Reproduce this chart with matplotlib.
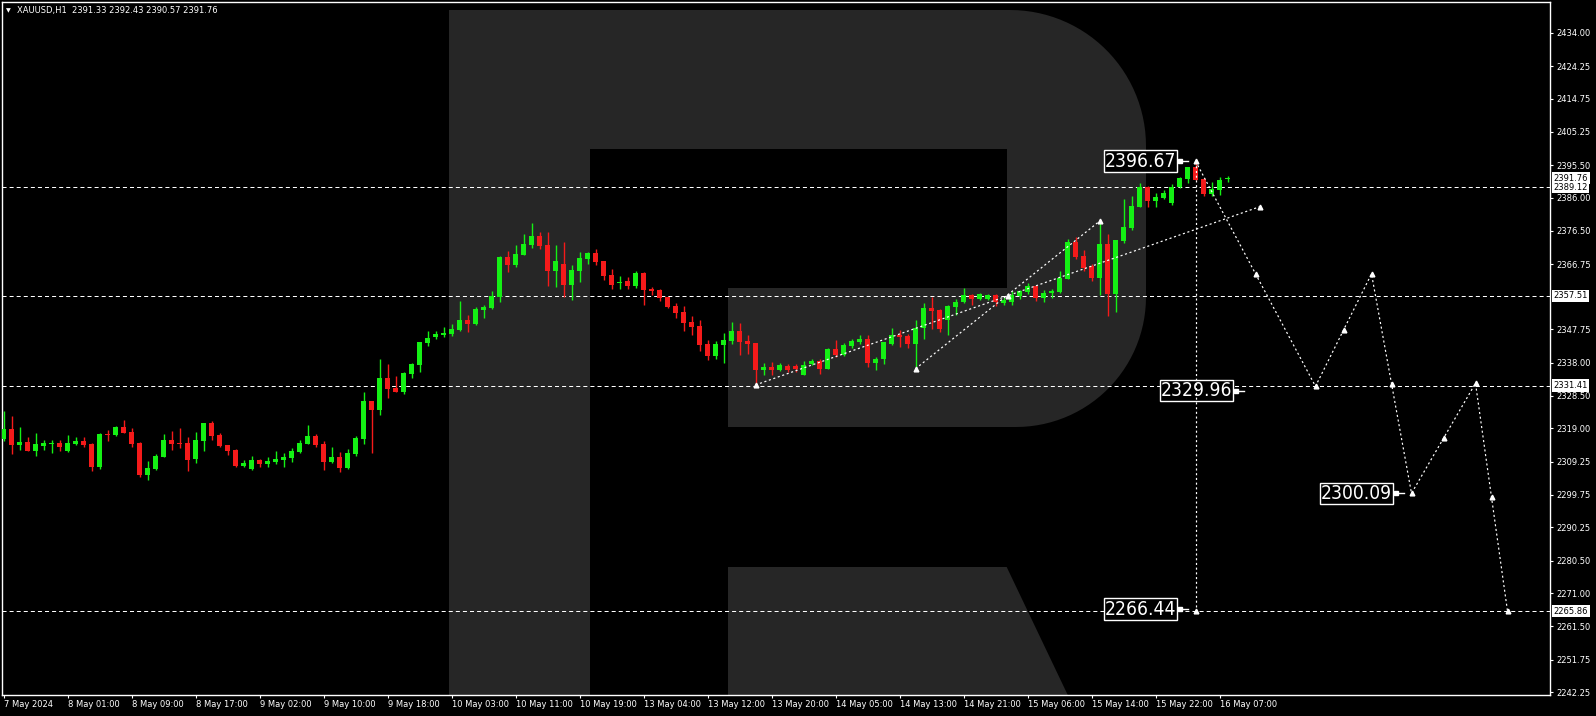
import numpy as np
import matplotlib
matplotlib.use("Agg")
import matplotlib.pyplot as plt
from matplotlib import font_manager as fm
from matplotlib.patches import Polygon

# ---------------- data ----------------
opens = [2315.89, 2318.80, 2314.15, 2315.02, 2312.41, 2313.86, 2314.44, 2314.73, 2312.41, 2314.44,
         2315.31, 2314.44, 2307.75, 2317.35, 2317.06, 2319.38, 2317.93, 2314.73, 2305.43, 2307.17,
         2310.66, 2315.60, 2314.73, 2314.73, 2310.08, 2315.31, 2320.54, 2317.06, 2314.15, 2312.70,
         2308.04, 2307.17, 2309.79, 2308.62, 2309.21, 2309.79, 2310.37, 2312.11, 2314.44, 2316.76,
         2314.44, 2309.21, 2310.66, 2307.46, 2311.53, 2315.89, 2326.94, 2324.32, 2333.63, 2330.72,
         2329.55, 2334.78, 2337.40, 2343.80, 2345.54, 2346.12, 2346.41, 2347.58, 2350.48, 2349.32,
         2353.39, 2353.97, 2357.17, 2368.80, 2366.47, 2369.38, 2372.28, 2374.90, 2372.28, 2364.73,
         2366.76, 2360.66, 2364.73, 2368.21, 2369.96, 2367.63, 2363.56, 2361.24, 2361.82, 2360.37,
         2364.14, 2359.49, 2359.20, 2357.17, 2354.55, 2352.81, 2349.90, 2348.74, 2343.51, 2340.02,
         2343.21, 2344.38, 2347.28, 2344.38, 2343.80, 2335.95, 2336.82, 2335.95, 2337.21, 2337.21,
         2334.41, 2337.60, 2338.57, 2336.15, 2341.95, 2340.21, 2342.82, 2344.02, 2344.85, 2337.89,
         2339.05, 2343.59, 2346.01, 2345.91, 2343.50, 2348.13, 2353.84, 2353.26, 2350.36, 2354.23,
         2355.68, 2357.61, 2356.55, 2356.55, 2357.61, 2355.48, 2355.68, 2357.32, 2358.48, 2360.51,
         2356.84, 2358.29, 2358.48, 2362.35, 2373.27, 2369.21, 2366.12, 2362.63, 2372.69, 2357.90,
         2373.56, 2377.23, 2383.42, 2389.22, 2385.16, 2385.93, 2384.58, 2389.12, 2391.54, 2394.83,
         2391.54, 2387.19, 2388.35, 2391.33]
highs = [2324.03, 2322.58, 2319.38, 2316.47, 2317.64, 2315.60, 2315.60, 2315.60, 2317.06, 2316.47,
         2316.47, 2314.73, 2317.64, 2318.51, 2319.67, 2321.42, 2319.09, 2315.02, 2309.50, 2311.53,
         2317.35, 2318.22, 2319.09, 2316.47, 2317.93, 2320.54, 2321.13, 2317.64, 2314.15, 2312.99,
         2309.79, 2310.95, 2310.08, 2310.66, 2312.41, 2311.82, 2313.28, 2315.60, 2319.96, 2317.35,
         2315.31, 2313.57, 2312.11, 2312.99, 2316.76, 2329.56, 2326.94, 2339.15, 2337.70, 2334.21,
         2335.37, 2337.98, 2344.09, 2347.28, 2347.28, 2348.45, 2349.32, 2356.00, 2351.94, 2354.26,
         2354.84, 2358.91, 2369.09, 2370.54, 2372.28, 2375.48, 2378.68, 2376.06, 2376.06, 2372.28,
         2373.16, 2366.47, 2370.25, 2370.25, 2371.12, 2367.63, 2365.31, 2363.27, 2362.98, 2364.73,
         2364.44, 2360.07, 2359.49, 2357.17, 2355.42, 2354.55, 2351.65, 2350.48, 2344.67, 2344.38,
         2346.70, 2349.90, 2349.61, 2346.12, 2343.80, 2337.98, 2338.27, 2337.98, 2337.60, 2337.60,
         2338.47, 2339.24, 2339.14, 2342.43, 2344.56, 2343.78, 2344.95, 2346.01, 2346.00, 2339.72,
         2344.17, 2348.23, 2347.46, 2346.50, 2350.36, 2355.29, 2357.03, 2353.74, 2354.71, 2356.64,
         2359.64, 2358.09, 2358.29, 2357.90, 2357.90, 2357.10, 2358.87, 2359.06, 2361.18, 2360.80,
         2359.06, 2359.45, 2364.86, 2373.95, 2374.53, 2370.95, 2366.79, 2379.17, 2375.49, 2373.85,
         2385.64, 2386.61, 2390.38, 2389.50, 2387.38, 2388.25, 2389.99, 2391.93, 2395.02, 2396.67,
         2391.73, 2390.48, 2392.10, 2392.43]
lows = [2315.41, 2311.53, 2312.70, 2312.41, 2310.95, 2312.70, 2311.82, 2312.41, 2312.11, 2314.15,
        2313.57, 2306.59, 2307.17, 2315.31, 2316.76, 2317.64, 2313.57, 2304.85, 2303.97, 2306.88,
        2310.66, 2312.70, 2313.28, 2306.59, 2308.92, 2312.41, 2315.60, 2313.57, 2311.24, 2307.75,
        2307.75, 2306.88, 2307.75, 2307.75, 2308.62, 2307.75, 2309.21, 2311.82, 2314.44, 2313.57,
        2306.88, 2308.92, 2306.30, 2307.17, 2310.95, 2314.44, 2311.82, 2322.87, 2327.81, 2329.56,
        2328.97, 2333.62, 2335.37, 2342.92, 2344.96, 2345.54, 2345.83, 2347.28, 2346.99, 2349.03,
        2351.06, 2353.68, 2355.71, 2364.44, 2365.89, 2369.38, 2371.41, 2371.12, 2360.37, 2360.07,
        2357.17, 2356.30, 2361.53, 2366.76, 2366.47, 2362.11, 2359.49, 2359.49, 2359.49, 2359.78,
        2354.84, 2357.75, 2356.00, 2353.97, 2351.06, 2347.28, 2346.12, 2341.47, 2338.85, 2339.15,
        2337.98, 2343.51, 2340.31, 2340.60, 2331.59, 2334.49, 2334.49, 2335.60, 2335.37, 2335.30,
        2334.41, 2337.30, 2334.89, 2336.15, 2339.72, 2339.90, 2342.43, 2343.59, 2336.83, 2335.86,
        2337.60, 2343.30, 2342.62, 2342.30, 2336.83, 2344.85, 2347.84, 2346.97, 2346.20, 2351.81,
        2355.38, 2354.90, 2356.16, 2356.16, 2354.52, 2354.80, 2354.70, 2356.55, 2357.90, 2355.97,
        2355.68, 2356.84, 2358.29, 2362.35, 2368.14, 2364.86, 2361.76, 2357.61, 2351.62, 2352.68,
        2372.79, 2376.75, 2383.20, 2383.42, 2383.42, 2385.64, 2383.90, 2389.00, 2390.20, 2391.10,
        2386.42, 2386.42, 2386.90, 2390.57]
closes = [2318.80, 2314.15, 2315.02, 2312.41, 2314.44, 2314.73, 2314.73, 2313.57, 2314.73, 2315.31,
          2314.15, 2307.75, 2317.35, 2317.06, 2319.38, 2317.64, 2314.44, 2305.43, 2307.46, 2310.95,
          2315.60, 2314.44, 2314.44, 2309.79, 2315.60, 2320.54, 2316.76, 2313.86, 2312.41, 2308.04,
          2308.92, 2309.79, 2308.62, 2309.50, 2310.08, 2310.66, 2312.41, 2314.73, 2316.76, 2314.15,
          2309.21, 2310.66, 2307.46, 2311.82, 2316.18, 2326.94, 2324.32, 2333.63, 2330.43, 2329.56,
          2335.07, 2337.69, 2344.09, 2345.25, 2346.41, 2346.70, 2347.87, 2350.48, 2349.32, 2353.68,
          2354.26, 2357.46, 2368.80, 2366.47, 2369.67, 2372.58, 2374.90, 2371.99, 2364.73, 2367.63,
          2360.66, 2365.02, 2368.51, 2369.96, 2367.34, 2363.27, 2360.66, 2361.53, 2360.37, 2364.14,
          2359.20, 2358.91, 2356.88, 2354.26, 2352.52, 2349.61, 2348.45, 2343.21, 2340.02, 2343.51,
          2344.67, 2347.28, 2344.09, 2343.51, 2335.95, 2336.82, 2335.95, 2337.40, 2335.86, 2336.24,
          2337.50, 2338.57, 2336.24, 2341.95, 2340.21, 2343.11, 2344.36, 2344.85, 2337.89, 2339.24,
          2343.98, 2346.01, 2345.52, 2343.50, 2348.23, 2353.84, 2353.06, 2347.84, 2354.42, 2355.68,
          2357.61, 2356.55, 2357.90, 2357.61, 2355.68, 2356.16, 2357.61, 2358.77, 2360.51, 2356.84,
          2358.38, 2358.77, 2362.63, 2373.27, 2368.92, 2365.73, 2362.63, 2372.69, 2357.90, 2373.85,
          2377.62, 2383.71, 2389.22, 2385.16, 2386.32, 2387.29, 2389.22, 2391.83, 2394.83, 2391.25,
          2387.19, 2388.64, 2391.25, 2391.76]

xtick_labels = ['7 May 2024', '8 May 01:00', '8 May 09:00', '8 May 17:00', '9 May 02:00',
                '9 May 10:00', '9 May 18:00', '10 May 03:00', '10 May 11:00', '10 May 19:00',
                '13 May 04:00', '13 May 12:00', '13 May 20:00', '14 May 05:00', '14 May 13:00',
                '14 May 21:00', '15 May 06:00', '15 May 14:00', '15 May 22:00', '16 May 07:00']
bars_per_label = 8
ytick_labels = ['2434.00', '2424.25', '2414.75', '2405.25', '2395.50', '2386.00', '2376.50',
                '2366.75', '2347.75', '2338.00', '2328.50', '2319.00', '2309.25', '2299.75',
                '2290.25', '2280.50', '2271.00', '2261.50', '2251.75', '2242.25']

level_lines = [2389.12, 2357.51, 2331.41, 2265.86]
price_tags = ['2391.76', '2389.12', '2357.51', '2331.41', '2265.86']

forecast_x = [149, 164, 171, 176, 184, 188]
forecast_y = [2396.67, 2331.2, 2363.9, 2300.1, 2332.1, 2265.86]
trend_a_x = [94, 157]
trend_a_y = [2331.6, 2383.4]
trend_b_x = [114, 137]
trend_b_y = [2336.3, 2379.2]
vline_x = 149
vline_y = [2396.67, 2266.0]

target_labels = ['2396.67', '2329.96', '2300.09', '2266.44']
target_prices = [2396.67, 2329.96, 2300.09, 2266.44]
target_box_right = [146.8, 153.8, 173.8, 146.8]

title_text = "XAUUSD,H1  2391.33 2392.43 2390.57 2391.76"

# ---------------- style ----------------
W, H = 1596, 716
BG = "#000000"
WM = "#262626"
BULL = "#14f014"
BEAR = "#f51a1a"
PX = 0.72  # one pixel in points at dpi 100


def pick_narrow_font():
    files = [(f.name, f.fname, str(f.style), str(f.weight)) for f in fm.fontManager.ttflist]
    for name, path, style, weight in files:
        if name == "Liberation Sans Narrow" and style == "normal" and weight in ("400", "normal"):
            return path
    for name, path, style, weight in files:
        if path.endswith("DejaVuSansCondensed.ttf"):
            return path
    for name, path, style, weight in files:
        low = path.lower()
        if ("condensed" in low or "narrow" in low) and not any(
                k in low for k in ("bold", "italic", "oblique", "light", "thin", "black", "medium", "semi", "extra")):
            return path
    return None


narrow_path = pick_narrow_font()
if narrow_path:
    big_fp = fm.FontProperties(fname=narrow_path)
else:
    big_fp = fm.FontProperties(family="Liberation Sans")

plt.rcParams["lines.scale_dashes"] = False
fig = plt.figure(figsize=(W / 100, H / 100), dpi=100, facecolor=BG)

# size the big label font so that "2396.67" is ~71 px wide
renderer = fig.canvas.get_renderer()
probe = fig.text(0, 0, "2396.67", fontproperties=big_fp, fontsize=20)
pw = probe.get_window_extent(renderer).width
probe.remove()
big_size = min(20 * 71.0 / pw, 16.8)

left_px, right_px, top_px, bot_px = 2.3, 1550.3, 2.3, 695.3
ax = fig.add_axes([left_px / W, 1 - bot_px / H, (right_px - left_px) / W, (bot_px - top_px) / H])
ax.set_facecolor(BG)
ax.set_xlim(-0.15, 193.35)
ax.set_ylim(2241.38, 2442.84)


# ---- watermark "R" (axes-fraction coordinates from pixel geometry) ----
def to_ax(pts):
    return [((x - left_px) / (right_px - left_px), (bot_px - y) / (bot_px - top_px)) for x, y in pts]


t1 = np.linspace(np.pi / 2, 0, 30)
arc1 = [(1010 + 136 * np.cos(t), 146 - 136 * np.sin(t)) for t in t1]
t2 = np.linspace(0, -np.pi / 2, 30)
arc2 = [(1016 + 130 * np.cos(t), 297 - 130 * np.sin(t)) for t in t2]
r_pts = [(449, 10)] + arc1 + arc2 + [(728, 427), (728, 288), (1007, 288), (1007, 149),
                                     (590, 149), (590, bot_px), (449, bot_px)]
ax.add_patch(Polygon(to_ax(r_pts), closed=True, transform=ax.transAxes,
                     facecolor=WM, edgecolor="none", zorder=0))
leg_pts = [(728, 567), (1006.7, 567), (1067.9, bot_px), (728, bot_px)]
ax.add_patch(Polygon(to_ax(leg_pts), closed=True, transform=ax.transAxes,
                     facecolor=WM, edgecolor="none", zorder=0))

# ---- horizontal level lines ----
for lv in level_lines:
    ax.axhline(lv, color="white", lw=PX, dashes=(2.9, 2.2), zorder=1)

# ---- candles ----
o = np.array(opens); h = np.array(highs); l = np.array(lows); c = np.array(closes)
x = np.arange(len(o))
cols = np.where(c >= o, BULL, BEAR)
ax.vlines(x, l, h, colors=cols, lw=1.0, zorder=2)
bottom = np.minimum(o, c)
height = np.maximum(np.abs(c - o), 0.3)
ax.bar(x, height, bottom=bottom, width=0.625, color=cols, linewidth=0, zorder=3)

# ---- forecast & trend dotted lines ----
dot = (1.5, 1.9)
ax.plot(forecast_x, forecast_y, color="white", lw=PX * 1.2, dashes=dot, zorder=4)
ax.plot(trend_a_x, trend_a_y, color="white", lw=PX * 1.2, dashes=dot, zorder=4)
ax.plot(trend_b_x, trend_b_y, color="white", lw=PX * 1.2, dashes=dot, zorder=4)
ax.plot([vline_x, vline_x], vline_y, color="white", lw=PX * 1.2, dashes=dot, zorder=7)

MS = 3.4
fx = np.array(forecast_x, float); fy = np.array(forecast_y, float)
mx = np.concatenate([fx, (fx[:-1] + fx[1:]) / 2])
my = np.concatenate([fy, (fy[:-1] + fy[1:]) / 2])
ax.plot(mx, my, ls="none", marker="^", ms=MS, color="white", zorder=5)
for tx, ty in ((trend_a_x, trend_a_y), (trend_b_x, trend_b_y)):
    ax.plot(tx, ty, ls="none", marker="^", ms=MS, color="white", zorder=5)
ax.plot([np.mean(trend_a_x)], [np.mean(trend_a_y)], ls="none", marker="^", ms=MS, color="white", zorder=5)
ax.plot([vline_x], [vline_y[1]], ls="none", marker="^", ms=MS, color="white", zorder=7)

# ---- target labels ----
for lab, pr, xr in zip(target_labels, target_prices, target_box_right):
    ax.annotate(lab, xy=(xr, pr), xytext=(-1.2, 0), textcoords="offset points",
                ha="right", va="center", color="white", fontproperties=big_fp,
                fontsize=big_size, zorder=6,
                bbox=dict(boxstyle="square,pad=0.06", fc=BG, ec="white", lw=1.0))
    ax.plot([xr, xr + 1.25], [pr, pr], color="white", lw=1.0, zorder=6)
    ax.plot([xr + 0.3], [pr], ls="none", marker="s", ms=2.2, color="white", zorder=6)

# ---- axes decorations ----
for s in ax.spines.values():
    s.set_color("white")
    s.set_linewidth(1.0)

ax.set_xticks(np.arange(len(xtick_labels)) * bars_per_label)
ax.set_xticklabels(xtick_labels, ha="left")
ax.yaxis.tick_right()
ax.set_yticks([float(v) for v in ytick_labels])
ax.set_yticklabels(ytick_labels, ha="left")
ax.tick_params(axis="both", colors="white", labelcolor="white", direction="out",
               length=2.5, width=0.8, labelsize=6)
ax.tick_params(axis="x", pad=1.0)
ax.tick_params(axis="y", pad=2.0)
for t in ax.get_xticklabels() + ax.get_yticklabels():
    t.set_family("DejaVu Sans")

# price tags on right scale
for lab in price_tags:
    ax.annotate(lab, xy=(1.0, float(lab)), xycoords=ax.get_yaxis_transform(),
                xytext=(2.2, 0), textcoords="offset points", ha="left", va="center",
                fontsize=6, color="black", annotation_clip=False, zorder=8,
                bbox=dict(boxstyle="square,pad=0.2", fc="white", ec="none"))

# title
fig.text(6 / W, 1 - 11 / H, "\u25BC", color="white", fontsize=4.5, ha="left", va="center")
fig.text(17.3 / W, 1 - 11 / H, title_text, color="white", fontsize=6.0, ha="left", va="center",
         family="DejaVu Sans")

fig.savefig("out.png", dpi=100, facecolor=BG)
